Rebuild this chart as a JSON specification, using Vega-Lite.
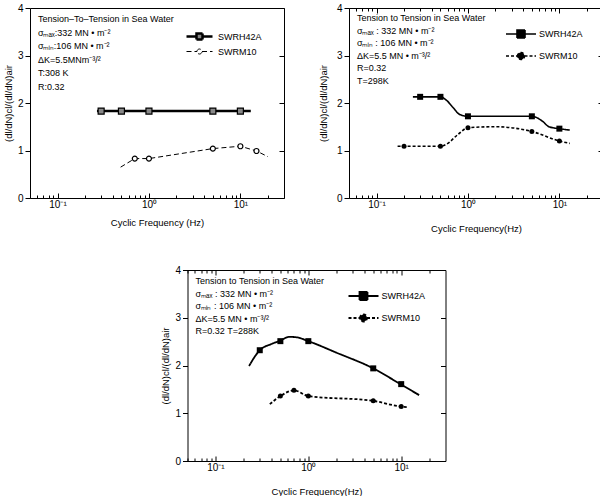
{
  "$schema": "https://vega.github.io/schema/vega-lite/v6.json",
  "padding": {"left": 2, "top": 2, "right": 0, "bottom": 0},
  "datasets": {
    "notes": [
      {"panel": 1, "text": ["Tension–To–Tension in Sea Water", "σₘₐₓ:332 MN • m⁻²", "σₘᵢₙ:106 MN • m⁻²", "ΔK=5.5MNm⁻³/²", " T:308 K", " R:0.32"]},
      {"panel": 2, "text": ["Tension to Tension in Sea Water", "σₘₐₓ : 332 MN • m⁻²", "σₘᵢₙ : 106 MN • m⁻²", "ΔK=5.5 MN • m⁻³/²", " R=0.32", " T=298K"]},
      {"panel": 3, "text": ["Tension to Tension in Sea Water", "σₘₐₓ : 332 MN • m⁻²", "σₘᵢₙ : 106 MN • m⁻²", "ΔK=5.5 MN • m⁻³/²", "R=0.32    T=288K"]}
    ],
    "curves": [
      {"panel": 1, "series": "SWRH42A", "f": 0.27, "r": 1.83},
      {"panel": 1, "series": "SWRH42A", "f": 13, "r": 1.83},
      {"panel": 1, "series": "SWRM10", "f": 0.49, "r": 0.65},
      {"panel": 1, "series": "SWRM10", "f": 0.7, "r": 0.83},
      {"panel": 1, "series": "SWRM10", "f": 1, "r": 0.83},
      {"panel": 1, "series": "SWRM10", "f": 5, "r": 1.04},
      {"panel": 1, "series": "SWRM10", "f": 10, "r": 1.09},
      {"panel": 1, "series": "SWRM10", "f": 15, "r": 0.99},
      {"panel": 1, "series": "SWRM10", "f": 20, "r": 0.87},
      {"panel": 2, "series": "SWRH42A", "f": 0.25, "r": 2.13},
      {"panel": 2, "series": "SWRH42A", "f": 0.3, "r": 2.13},
      {"panel": 2, "series": "SWRH42A", "f": 0.5, "r": 2.13},
      {"panel": 2, "series": "SWRH42A", "f": 0.58, "r": 2.06},
      {"panel": 2, "series": "SWRH42A", "f": 0.69, "r": 1.9},
      {"panel": 2, "series": "SWRH42A", "f": 0.81, "r": 1.76},
      {"panel": 2, "series": "SWRH42A", "f": 1, "r": 1.72},
      {"panel": 2, "series": "SWRH42A", "f": 5, "r": 1.72},
      {"panel": 2, "series": "SWRH42A", "f": 6.5, "r": 1.62},
      {"panel": 2, "series": "SWRH42A", "f": 7.7, "r": 1.5},
      {"panel": 2, "series": "SWRH42A", "f": 10, "r": 1.46},
      {"panel": 2, "series": "SWRH42A", "f": 13, "r": 1.43},
      {"panel": 2, "series": "SWRM10", "f": 0.17, "r": 1.09},
      {"panel": 2, "series": "SWRM10", "f": 0.2, "r": 1.09},
      {"panel": 2, "series": "SWRM10", "f": 0.5, "r": 1.09},
      {"panel": 2, "series": "SWRM10", "f": 0.58, "r": 1.13},
      {"panel": 2, "series": "SWRM10", "f": 0.78, "r": 1.34},
      {"panel": 2, "series": "SWRM10", "f": 1, "r": 1.48},
      {"panel": 2, "series": "SWRM10", "f": 2, "r": 1.5},
      {"panel": 2, "series": "SWRM10", "f": 5, "r": 1.4},
      {"panel": 2, "series": "SWRM10", "f": 10, "r": 1.2},
      {"panel": 2, "series": "SWRM10", "f": 13, "r": 1.15},
      {"panel": 3, "series": "SWRH42A", "f": 0.23, "r": 1.99},
      {"panel": 3, "series": "SWRH42A", "f": 0.3, "r": 2.32},
      {"panel": 3, "series": "SWRH42A", "f": 0.4, "r": 2.45},
      {"panel": 3, "series": "SWRH42A", "f": 0.5, "r": 2.52},
      {"panel": 3, "series": "SWRH42A", "f": 0.62, "r": 2.6},
      {"panel": 3, "series": "SWRH42A", "f": 0.75, "r": 2.59},
      {"panel": 3, "series": "SWRH42A", "f": 1, "r": 2.51},
      {"panel": 3, "series": "SWRH42A", "f": 2, "r": 2.27},
      {"panel": 3, "series": "SWRH42A", "f": 5, "r": 1.94},
      {"panel": 3, "series": "SWRH42A", "f": 10, "r": 1.6},
      {"panel": 3, "series": "SWRH42A", "f": 15.6, "r": 1.38},
      {"panel": 3, "series": "SWRM10", "f": 0.385, "r": 1.19},
      {"panel": 3, "series": "SWRM10", "f": 0.5, "r": 1.36},
      {"panel": 3, "series": "SWRM10", "f": 0.7, "r": 1.48},
      {"panel": 3, "series": "SWRM10", "f": 1, "r": 1.36},
      {"panel": 3, "series": "SWRM10", "f": 5, "r": 1.26},
      {"panel": 3, "series": "SWRM10", "f": 10, "r": 1.14},
      {"panel": 3, "series": "SWRM10", "f": 11.5, "r": 1.13}
    ],
    "points": [
      {"panel": 1, "series": "SWRH42A", "f": 0.3, "r": 1.83},
      {"panel": 1, "series": "SWRH42A", "f": 0.5, "r": 1.83},
      {"panel": 1, "series": "SWRH42A", "f": 1, "r": 1.83},
      {"panel": 1, "series": "SWRH42A", "f": 5, "r": 1.83},
      {"panel": 1, "series": "SWRH42A", "f": 10, "r": 1.83},
      {"panel": 1, "series": "SWRM10", "f": 0.7, "r": 0.83},
      {"panel": 1, "series": "SWRM10", "f": 1, "r": 0.83},
      {"panel": 1, "series": "SWRM10", "f": 5, "r": 1.04},
      {"panel": 1, "series": "SWRM10", "f": 10, "r": 1.09},
      {"panel": 1, "series": "SWRM10", "f": 15, "r": 0.99},
      {"panel": 2, "series": "SWRH42A", "f": 0.3, "r": 2.13},
      {"panel": 2, "series": "SWRH42A", "f": 0.5, "r": 2.13},
      {"panel": 2, "series": "SWRH42A", "f": 1, "r": 1.72},
      {"panel": 2, "series": "SWRH42A", "f": 5, "r": 1.72},
      {"panel": 2, "series": "SWRH42A", "f": 10, "r": 1.46},
      {"panel": 2, "series": "SWRM10", "f": 0.2, "r": 1.09},
      {"panel": 2, "series": "SWRM10", "f": 0.5, "r": 1.09},
      {"panel": 2, "series": "SWRM10", "f": 1, "r": 1.48},
      {"panel": 2, "series": "SWRM10", "f": 5, "r": 1.4},
      {"panel": 2, "series": "SWRM10", "f": 10, "r": 1.2},
      {"panel": 3, "series": "SWRH42A", "f": 0.3, "r": 2.32},
      {"panel": 3, "series": "SWRH42A", "f": 0.5, "r": 2.51},
      {"panel": 3, "series": "SWRH42A", "f": 1, "r": 2.51},
      {"panel": 3, "series": "SWRH42A", "f": 5, "r": 1.94},
      {"panel": 3, "series": "SWRH42A", "f": 10, "r": 1.61},
      {"panel": 3, "series": "SWRM10", "f": 0.5, "r": 1.36},
      {"panel": 3, "series": "SWRM10", "f": 0.7, "r": 1.48},
      {"panel": 3, "series": "SWRM10", "f": 1, "r": 1.36},
      {"panel": 3, "series": "SWRM10", "f": 5, "r": 1.26},
      {"panel": 3, "series": "SWRM10", "f": 10, "r": 1.14}
    ]
  },
  "vconcat": [
    {
      "hconcat": [
        {
          "width": 254, "height": 190,
          "layer": [
            {
              "data": {"name": "curves"},
              "transform": [{"filter": "datum.panel == 1"}],
              "mark": {"type": "line", "color": "black", "interpolate": "linear"},
              "encoding": {
                "x": {"field": "f", "type": "quantitative", "scale": {"type": "log", "domain": [0.05, 30]},
                  "axis": {"orient": "bottom", "values": [0.05,0.06,0.07,0.08,0.09,0.1,0.2,0.3,0.4,0.5,0.6,0.7,0.8,0.9,1,2,3,4,5,6,7,8,9,10,20], "labelExpr": "datum.value == 0.1 ? '10⁻¹' : datum.value == 1 ? '10⁰' : datum.value == 10 ? '10¹' : ''", "tickSize": {"condition": {"test": "datum.value == 0.1 || datum.value == 1 || datum.value == 10", "value": -5}, "value": -3}, "labelPadding": 6, "labelFlush": false, "labelOverlap": false, "title": "Cyclic Frequency (Hz)", "titlePadding": 6}},
                "y": {"field": "r", "type": "quantitative", "scale": {"domain": [0, 4]},
                  "axis": {"orient": "left", "values": [0,1,2,3,4], "tickSize": 5, "labelPadding": 2, "title": "(dl/dN)cl/(dl/dN)air", "titlePadding": 4}},
                "strokeDash": {"field": "series", "type": "nominal", "scale": {"domain": ["SWRH42A", "SWRM10"], "range": [[1, 0], [5, 3]]}, "legend": null},
                "strokeWidth": {"field": "series", "type": "nominal", "scale": {"domain": ["SWRH42A", "SWRM10"], "range": [2.5, 1]}, "legend": null}
              }
            },
            {
              "data": {"name": "points"},
              "transform": [{"filter": "datum.panel == 1"}],
              "mark": {"type": "point", "filled": true, "stroke": "black", "strokeWidth": 1.2, "opacity": 1},
              "encoding": {
                "x": {"field": "f", "type": "quantitative", "scale": {"type": "log", "domain": [0.05, 30]}, "axis": {"orient": "top", "ticks": false, "labels": false, "domain": false, "title": null}},
                "y": {"field": "r", "type": "quantitative", "scale": {"domain": [0, 4]}, "axis": {"orient": "right", "values": [0,1,2,3,4], "labels": false, "tickSize": -5, "title": null}},
                "shape": {"field": "series", "type": "nominal", "scale": {"domain": ["SWRH42A", "SWRM10"], "range": ["square", "circle"]}, "legend": null},
                "fill": {"field": "series", "type": "nominal", "scale": {"domain": ["SWRH42A", "SWRM10"], "range": ["#888", "white"]}, "legend": null},
                "size": {"field": "series", "type": "nominal", "scale": {"domain": ["SWRH42A", "SWRM10"], "range": [36, 25]}, "legend": null}
              }
            },
            {
              "data": {"name": "points"},
              "transform": [{"filter": "datum.panel == 1"}],
              "mark": {"type": "point", "filled": true, "stroke": "black", "opacity": 0},
              "encoding": {
                "x": {"field": "f", "type": "quantitative", "scale": {"type": "log", "domain": [0.05, 30]}, "axis": null},
                "y": {"field": "r", "type": "quantitative", "scale": {"domain": [0, 4]}, "axis": null},
                "shape": {"field": "series", "type": "nominal", "scale": {"domain": ["SWRH42A", "SWRM10"], "range": ["M-2.6,0H-0.6M0.6,0H2.6M-0.6,-0.6H0.6V0.6H-0.6Z", "M-2.6,0H-0.5M0.5,0H2.6M-0.5,0A0.5,0.5,0,1,1,0.5,0A0.5,0.5,0,1,1,-0.5,0Z"]},
                  "legend": {"title": null, "orient": "top-right", "offset": 22, "symbolSize": 100, "labelOffset": 12, "rowPadding": 1, "padding": 0, "symbolOpacity": 1}},
                "strokeDash": {"field": "series", "type": "nominal", "scale": {"domain": ["SWRH42A", "SWRM10"], "range": [[1, 0], [5, 3]]},
                  "legend": {"title": null, "orient": "top-right", "offset": 22, "symbolSize": 100, "labelOffset": 12, "rowPadding": 1, "padding": 0, "symbolOpacity": 1}},
                "fill": {"field": "series", "type": "nominal", "scale": {"domain": ["SWRH42A", "SWRM10"], "range": ["#888", "white"]},
                  "legend": {"title": null, "orient": "top-right", "offset": 22, "symbolSize": 100, "labelOffset": 12, "rowPadding": 1, "padding": 0, "symbolOpacity": 1}},
                "stroke": {"field": "series", "type": "nominal", "scale": {"domain": ["SWRH42A", "SWRM10"], "range": ["black", "black"]},
                  "legend": {"title": null, "orient": "top-right", "offset": 22, "symbolSize": 100, "labelOffset": 12, "rowPadding": 1, "padding": 0, "symbolOpacity": 1}},
                "strokeWidth": {"field": "series", "type": "nominal", "scale": {"domain": ["SWRH42A", "SWRM10"], "range": [2.5, 1]},
                  "legend": {"title": null, "orient": "top-right", "offset": 22, "symbolSize": 100, "labelOffset": 12, "rowPadding": 1, "padding": 0, "symbolOpacity": 1}}
              }
            },
            {
              "data": {"name": "notes"},
              "transform": [{"filter": "datum.panel == 1"}],
              "mark": {"type": "text", "align": "left", "baseline": "top", "fontSize": 9, "lineHeight": 13.5, "color": "black"},
              "encoding": {
                "x": {"datum": 0.061, "type": "quantitative", "scale": {"type": "log", "domain": [0.05, 30]}, "axis": null},
                "y": {"datum": 3.85, "type": "quantitative", "scale": {"domain": [0, 4]}, "axis": null},
                "text": {"field": "text"}
              }
            }
          ],
          "resolve": {"scale": {"x": "independent", "y": "independent", "shape": "independent", "strokeDash": "independent", "fill": "independent", "stroke": "independent", "strokeWidth": "independent"}, "axis": {"x": "independent", "y": "independent"}}
        },
        {
          "width": 254, "height": 190,
          "layer": [
            {
              "data": {"name": "curves"},
              "transform": [{"filter": "datum.panel == 2"}],
              "mark": {"type": "line", "color": "black", "interpolate": "monotone", "strokeWidth": 1.6},
              "encoding": {
                "x": {"field": "f", "type": "quantitative", "scale": {"type": "log", "domain": [0.05, 30]},
                  "axis": {"orient": "bottom", "values": [0.05,0.06,0.07,0.08,0.09,0.1,0.2,0.3,0.4,0.5,0.6,0.7,0.8,0.9,1,2,3,4,5,6,7,8,9,10,20], "labelExpr": "datum.value == 0.1 ? '10⁻¹' : datum.value == 1 ? '10⁰' : datum.value == 10 ? '10¹' : ''", "tickSize": {"condition": {"test": "datum.value == 0.1 || datum.value == 1 || datum.value == 10", "value": -5}, "value": -3}, "labelPadding": 6, "labelFlush": false, "labelOverlap": false, "title": "Cyclic Frequency(Hz)", "titlePadding": 12}},
                "y": {"field": "r", "type": "quantitative", "scale": {"domain": [0, 4]},
                  "axis": {"orient": "left", "values": [0,1,2,3,4], "tickSize": 5, "labelPadding": 2, "title": "(dl/dN)cl/(dl/dN)air", "titlePadding": 8}},
                "strokeDash": {"field": "series", "type": "nominal", "scale": {"domain": ["SWRH42A", "SWRM10"], "range": [[1, 0], [3, 2]]}, "legend": null}
              }
            },
            {
              "data": {"name": "points"},
              "transform": [{"filter": "datum.panel == 2"}],
              "mark": {"type": "point", "filled": true, "color": "black", "opacity": 1},
              "encoding": {
                "x": {"field": "f", "type": "quantitative", "scale": {"type": "log", "domain": [0.05, 30]}, "axis": {"orient": "top", "values": [0.05,0.06,0.07,0.08,0.09,0.1,0.2,0.3,0.4,0.5,0.6,0.7,0.8,0.9,1,2,3,4,5,6,7,8,9,10,20], "labels": false, "domain": false, "title": null, "tickSize": {"condition": {"test": "datum.value == 0.1 || datum.value == 1 || datum.value == 10", "value": -5}, "value": -3}}},
                "y": {"field": "r", "type": "quantitative", "scale": {"domain": [0, 4]}, "axis": {"orient": "right", "values": [0,1,2,3,4], "labels": false, "tickSize": -5, "title": null}},
                "shape": {"field": "series", "type": "nominal", "scale": {"domain": ["SWRH42A", "SWRM10"], "range": ["square", "circle"]}, "legend": null},
                "size": {"field": "series", "type": "nominal", "scale": {"domain": ["SWRH42A", "SWRM10"], "range": [64, 49]}, "legend": null}
              }
            },
            {
              "data": {"name": "points"},
              "transform": [{"filter": "datum.panel == 2"}],
              "mark": {"type": "point", "filled": true, "color": "black", "stroke": "black", "opacity": 0},
              "encoding": {
                "x": {"field": "f", "type": "quantitative", "scale": {"type": "log", "domain": [0.05, 30]}, "axis": null},
                "y": {"field": "r", "type": "quantitative", "scale": {"domain": [0, 4]}, "axis": null},
                "shape": {"field": "series", "type": "nominal", "scale": {"domain": ["SWRH42A", "SWRM10"], "range": ["M-3,0H-0.8M0.8,0H3M-0.8,-0.8H0.8V0.8H-0.8Z", "M-3,0H-0.7M0.7,0H3M-0.7,0A0.7,0.7,0,1,1,0.7,0A0.7,0.7,0,1,1,-0.7,0Z"]},
                  "legend": {"title": null, "orient": "top-right", "offset": 20, "symbolSize": 100, "labelOffset": 12, "rowPadding": 7, "padding": 0, "symbolOpacity": 1, "symbolStrokeWidth": 1.6}},
                "strokeDash": {"field": "series", "type": "nominal", "scale": {"domain": ["SWRH42A", "SWRM10"], "range": [[1, 0], [3, 2]]},
                  "legend": {"title": null, "orient": "top-right", "offset": 20, "symbolSize": 100, "labelOffset": 12, "rowPadding": 7, "padding": 0, "symbolOpacity": 1, "symbolStrokeWidth": 1.6}},
                "stroke": {"field": "series", "type": "nominal", "scale": {"domain": ["SWRH42A", "SWRM10"], "range": ["black", "black"]},
                  "legend": {"title": null, "orient": "top-right", "offset": 20, "symbolSize": 100, "labelOffset": 12, "rowPadding": 7, "padding": 0, "symbolOpacity": 1, "symbolStrokeWidth": 1.6}}
              }
            },
            {
              "data": {"name": "notes"},
              "transform": [{"filter": "datum.panel == 2"}],
              "mark": {"type": "text", "align": "left", "baseline": "top", "fontSize": 9, "lineHeight": 12.5, "color": "black"},
              "encoding": {
                "x": {"datum": 0.061, "type": "quantitative", "scale": {"type": "log", "domain": [0.05, 30]}, "axis": null},
                "y": {"datum": 3.87, "type": "quantitative", "scale": {"domain": [0, 4]}, "axis": null},
                "text": {"field": "text"}
              }
            }
          ],
          "resolve": {"scale": {"x": "independent", "y": "independent", "shape": "independent", "strokeDash": "independent", "stroke": "independent"}, "axis": {"x": "independent", "y": "independent"}}
        }
      ],
      "spacing": 32,
      "resolve": {"legend": {"shape": "independent", "strokeDash": "independent", "fill": "independent", "stroke": "independent", "strokeWidth": "independent"}}
    },
    {
      "width": 258, "height": 191,
      "layer": [
        {
          "data": {"name": "curves"},
          "transform": [{"filter": "datum.panel == 3"}],
          "mark": {"type": "line", "color": "black", "interpolate": "monotone", "strokeWidth": 1.8},
          "encoding": {
            "x": {"field": "f", "type": "quantitative", "scale": {"type": "log", "domain": [0.05, 30]},
              "axis": {"orient": "bottom", "values": [0.05,0.06,0.07,0.08,0.09,0.1,0.2,0.3,0.4,0.5,0.6,0.7,0.8,0.9,1,2,3,4,5,6,7,8,9,10,20], "labelExpr": "datum.value == 0.1 ? '10⁻¹' : datum.value == 1 ? '10⁰' : datum.value == 10 ? '10¹' : ''", "tickSize": {"condition": {"test": "datum.value == 0.1 || datum.value == 1 || datum.value == 10", "value": -5}, "value": -3}, "labelPadding": 6, "labelFlush": false, "labelOverlap": false, "title": "Cyclic Frequency(Hz)", "titlePadding": 12}},
            "y": {"field": "r", "type": "quantitative", "scale": {"domain": [0, 4]},
              "axis": {"orient": "left", "values": [0,1,2,3,4], "tickSize": 5, "labelPadding": 2, "title": "(dl/dN)cl/(dl/dN)air", "minExtent": 54, "titleX": -17, "titleY": 95.5}},
            "strokeDash": {"field": "series", "type": "nominal", "scale": {"domain": ["SWRH42A", "SWRM10"], "range": [[1, 0], [3, 2]]}, "legend": null}
          }
        },
        {
          "data": {"name": "points"},
          "transform": [{"filter": "datum.panel == 3"}],
          "mark": {"type": "point", "filled": true, "color": "black", "opacity": 1},
          "encoding": {
            "x": {"field": "f", "type": "quantitative", "scale": {"type": "log", "domain": [0.05, 30]}, "axis": {"orient": "top", "values": [0.05,0.06,0.07,0.08,0.09,0.1,0.2,0.3,0.4,0.5,0.6,0.7,0.8,0.9,1,2,3,4,5,6,7,8,9,10,20], "labels": false, "domain": false, "title": null, "tickSize": {"condition": {"test": "datum.value == 0.1 || datum.value == 1 || datum.value == 10", "value": -5}, "value": -3}}},
            "y": {"field": "r", "type": "quantitative", "scale": {"domain": [0, 4]}, "axis": {"orient": "right", "values": [0,1,2,3,4], "labels": false, "tickSize": -5, "title": null}},
            "shape": {"field": "series", "type": "nominal", "scale": {"domain": ["SWRH42A", "SWRM10"], "range": ["square", "circle"]}, "legend": null},
            "size": {"field": "series", "type": "nominal", "scale": {"domain": ["SWRH42A", "SWRM10"], "range": [64, 49]}, "legend": null}
          }
        },
        {
          "data": {"name": "points"},
          "transform": [{"filter": "datum.panel == 3"}],
          "mark": {"type": "point", "filled": true, "color": "black", "stroke": "black", "opacity": 0},
          "encoding": {
            "x": {"field": "f", "type": "quantitative", "scale": {"type": "log", "domain": [0.05, 30]}, "axis": null},
            "y": {"field": "r", "type": "quantitative", "scale": {"domain": [0, 4]}, "axis": null},
            "shape": {"field": "series", "type": "nominal", "scale": {"domain": ["SWRH42A", "SWRM10"], "range": ["M-3,0H-0.8M0.8,0H3M-0.8,-0.8H0.8V0.8H-0.8Z", "M-3,0H-0.7M0.7,0H3M-0.7,0A0.7,0.7,0,1,1,0.7,0A0.7,0.7,0,1,1,-0.7,0Z"]},
              "legend": {"title": null, "orient": "top-right", "offset": 20, "symbolSize": 100, "labelOffset": 12, "rowPadding": 6, "padding": 0, "symbolOpacity": 1, "symbolStrokeWidth": 1.8}},
            "strokeDash": {"field": "series", "type": "nominal", "scale": {"domain": ["SWRH42A", "SWRM10"], "range": [[1, 0], [3, 2]]},
              "legend": {"title": null, "orient": "top-right", "offset": 20, "symbolSize": 100, "labelOffset": 12, "rowPadding": 6, "padding": 0, "symbolOpacity": 1, "symbolStrokeWidth": 1.8}},
            "stroke": {"field": "series", "type": "nominal", "scale": {"domain": ["SWRH42A", "SWRM10"], "range": ["black", "black"]},
              "legend": {"title": null, "orient": "top-right", "offset": 20, "symbolSize": 100, "labelOffset": 12, "rowPadding": 6, "padding": 0, "symbolOpacity": 1, "symbolStrokeWidth": 1.8}}
          }
        },
        {
          "data": {"name": "notes"},
          "transform": [{"filter": "datum.panel == 3"}],
          "mark": {"type": "text", "align": "left", "baseline": "top", "fontSize": 9, "lineHeight": 12.5, "color": "black"},
          "encoding": {
            "x": {"datum": 0.061, "type": "quantitative", "scale": {"type": "log", "domain": [0.05, 30]}, "axis": null},
            "y": {"datum": 3.85, "type": "quantitative", "scale": {"domain": [0, 4]}, "axis": null},
            "text": {"field": "text"}
          }
        }
      ],
      "resolve": {"scale": {"x": "independent", "y": "independent", "shape": "independent", "strokeDash": "independent", "stroke": "independent"}, "axis": {"x": "independent", "y": "independent"}}
    }
  ],
  "spacing": 31,
  "center": true,
  "resolve": {"legend": {"shape": "independent", "strokeDash": "independent", "fill": "independent", "stroke": "independent", "strokeWidth": "independent"}},
  "config": {
    "font": "Liberation Sans, Arial, sans-serif",
    "view": {"stroke": "black", "strokeWidth": 1},
    "axis": {"grid": false, "domain": false, "labelFontSize": 10, "titleFontSize": 9.5, "titleFontWeight": "normal", "labelColor": "black", "titleColor": "black", "tickColor": "black", "tickWidth": 1},
    "legend": {"labelFontSize": 9, "labelColor": "black"},
    "title": {"color": "black"}
  }
}
